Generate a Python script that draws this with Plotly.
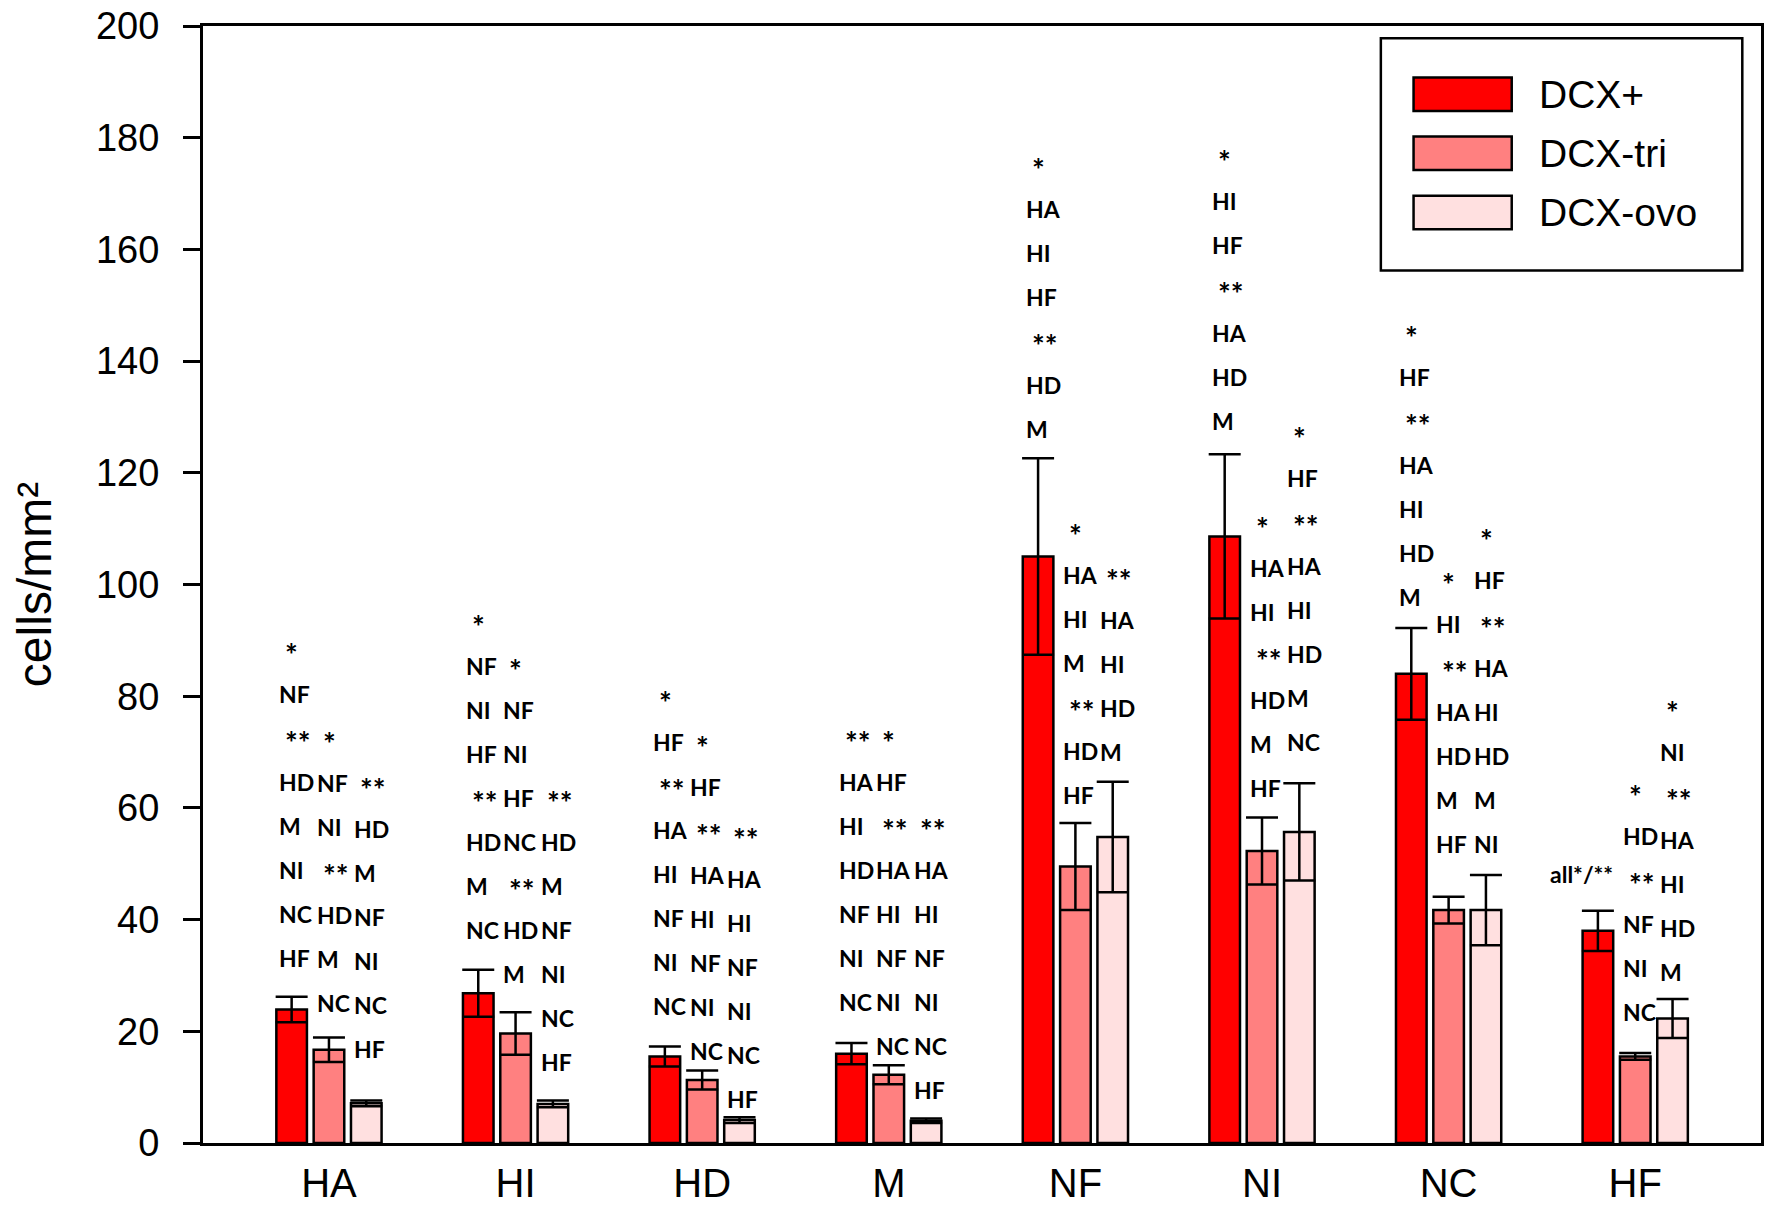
import plotly.graph_objects as go

groups = ['HA', 'HI', 'HD', 'M', 'NF', 'NI', 'NC', 'HF']
series = ['DCX+', 'DCX-tri', 'DCX-ovo']

dcx_plus = [23.9, 26.8, 15.5, 16.0, 105.0, 108.6, 84.0, 38.0]
dcx_plus_err = [2.3, 4.2, 1.8, 1.9, 17.6, 14.7, 8.2, 3.6]
dcx_tri = [16.7, 19.6, 11.3, 12.2, 49.5, 52.3, 41.7, 15.5]
dcx_tri_err = [2.2, 3.8, 1.7, 1.7, 7.8, 6.0, 2.4, 0.6]
dcx_ovo = [7.1, 7.0, 4.1, 4.0, 54.8, 55.7, 41.7, 22.3]
dcx_ovo_err = [0.5, 0.6, 0.5, 0.4, 9.9, 8.7, 6.3, 3.5]

# significance labels above each bar, listed top to bottom
sig_plus = [
    ['*', 'NF', '**', 'HD', 'M', 'NI', 'NC', 'HF'],
    ['*', 'NF', 'NI', 'HF', '**', 'HD', 'M', 'NC'],
    ['*', 'HF', '**', 'HA', 'HI', 'NF', 'NI', 'NC'],
    ['**', 'HA', 'HI', 'HD', 'NF', 'NI', 'NC'],
    ['*', 'HA', 'HI', 'HF', '**', 'HD', 'M'],
    ['*', 'HI', 'HF', '**', 'HA', 'HD', 'M'],
    ['*', 'HF', '**', 'HA', 'HI', 'HD', 'M'],
    ['all*/**'],
]
sig_tri = [
    ['*', 'NF', 'NI', '**', 'HD', 'M', 'NC'],
    ['*', 'NF', 'NI', 'HF', 'NC', '**', 'HD', 'M'],
    ['*', 'HF', '**', 'HA', 'HI', 'NF', 'NI', 'NC'],
    ['*', 'HF', '**', 'HA', 'HI', 'NF', 'NI', 'NC'],
    ['*', 'HA', 'HI', 'M', '**', 'HD', 'HF'],
    ['*', 'HA', 'HI', '**', 'HD', 'M', 'HF'],
    ['*', 'HI', '**', 'HA', 'HD', 'M', 'HF'],
    ['*', 'HD', '**', 'NF', 'NI', 'NC'],
]
sig_ovo = [
    ['**', 'HD', 'M', 'NF', 'NI', 'NC', 'HF'],
    ['**', 'HD', 'M', 'NF', 'NI', 'NC', 'HF'],
    ['**', 'HA', 'HI', 'NF', 'NI', 'NC', 'HF'],
    ['**', 'HA', 'HI', 'NF', 'NI', 'NC', 'HF'],
    ['**', 'HA', 'HI', 'HD', 'M'],
    ['*', 'HF', '**', 'HA', 'HI', 'HD', 'M', 'NC'],
    ['*', 'HF', '**', 'HA', 'HI', 'HD', 'M', 'NI'],
    ['*', 'NI', '**', 'HA', 'HI', 'HD', 'M'],
]

# gap (y units) between error-bar top and the lowest label of each stack
lift_plus = [6.9, 7.1, 7.3, 7.3, 5.2, 5.9, 5.6, 6.6]
lift_tri = [6.1, 6.8, 3.5, 3.4, 5.0, 5.2, 9.5, 7.3]
lift_ovo = [9.3, 6.9, 3.3, 5.1, 5.3, 7.4, 5.6, 4.8]

colors = ['#FF0000', '#FF8080', '#FFE0E0']
values = [dcx_plus, dcx_tri, dcx_ovo]
errors = [dcx_plus_err, dcx_tri_err, dcx_ovo_err]
sigs = [sig_plus, sig_tri, sig_ovo]
lifts = [lift_plus, lift_tri, lift_ovo]

xs = list(range(len(groups)))
slot = 0.2
bar_w = 0.164

fig = go.Figure()
for s, name in enumerate(series):
    fig.add_trace(go.Bar(
        x=xs, y=values[s], name=name,
        marker=dict(color=colors[s], line=dict(color='black', width=2.5)),
        error_y=dict(type='data', array=errors[s], visible=True,
                     color='black', thickness=2.5, width=16),
        showlegend=False
    ))

lab_font = dict(family='Lato', size=23, color='black', weight=700)
star_font = dict(family='Lato', size=30, color='black', weight=700)
annotations = []
for s in range(3):
    for g in xs:
        top = values[s][g] + errors[s][g]
        center = g + (s - 1) * slot
        lines = sigs[s][g]
        for k, lab in enumerate(reversed(lines)):
            star = lab.startswith('*')
            if len(lines) == 1:
                ax, anchor, shift = center + bar_w / 2, 'right', 2
            else:
                ax, anchor = center - bar_w / 2, 'left'
                shift = 7 if star else 1
            annotations.append(dict(
                x=ax, y=top + lifts[s][g], xref='x', yref='y',
                text=lab, showarrow=False, xanchor=anchor, yanchor='middle',
                xshift=shift, yshift=k * 44 - (4 if star else 0),
                font=star_font if star else lab_font
            ))

# legend drawn as a boxed key
shapes = [dict(type='rect', xref='paper', yref='paper',
               x0=0.756, x1=0.988, y0=0.781, y1=0.989,
               line=dict(color='black', width=2.5), fillcolor='white')]
for s, name in enumerate(series):
    yc = 0.939 - s * 0.053
    shapes.append(dict(type='rect', xref='paper', yref='paper',
                       x0=0.777, x1=0.840, y0=yc - 0.015, y1=yc + 0.015,
                       line=dict(color='black', width=2.5),
                       fillcolor=colors[s]))
    annotations.append(dict(
        x=0.856, y=yc, xref='paper', yref='paper', text=name,
        showarrow=False, xanchor='left', yanchor='middle',
        font=dict(family='Liberation Sans', size=39, color='black')
    ))

# page body adds an 8px offset, so the figure is sized to fit the window
fig.update_layout(
    barmode='group', bargap=0.4, bargroupgap=0.18,
    width=1756, height=1197,
    margin=dict(l=195, r=3, t=18, b=62),
    plot_bgcolor='white', paper_bgcolor='white',
    font=dict(family='Liberation Sans', color='black'),
    xaxis=dict(
        range=[-0.675, 7.674], tickvals=xs, ticktext=groups,
        showline=True, linecolor='black', linewidth=3, mirror=True,
        ticks='', showgrid=False, zeroline=False, automargin=False,
        tickfont=dict(size=40), ticklabelstandoff=3
    ),
    yaxis=dict(
        range=[0, 200], dtick=20, tick0=0,
        showline=True, linecolor='black', linewidth=3, mirror=True,
        ticks='outside', ticklen=17, tickwidth=3, tickcolor='black',
        showgrid=False, zeroline=False, ticklabeloverflow='allow',
        automargin=False,
        tickfont=dict(size=38), ticklabelstandoff=16,
        title=dict(text='cells/mm²', font=dict(size=48), standoff=46)
    ),
    annotations=annotations,
    shapes=shapes
)

fig.write_html('out.html')
